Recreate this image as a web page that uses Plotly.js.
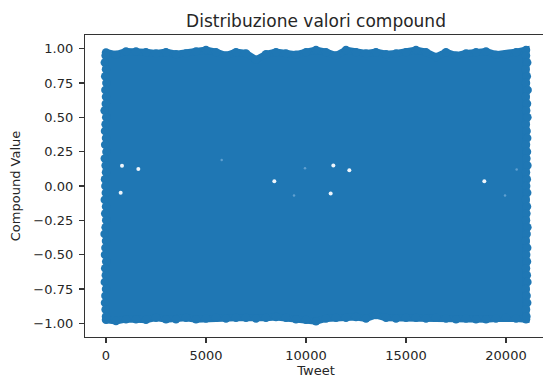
<!DOCTYPE html>
<html>
<head>
<meta charset="utf-8">
<script src="https://cdn.plot.ly/plotly-3.0.1.min.js"></script>
<style>
html,body{margin:0;padding:0;overflow:hidden;background:#fff;}
#chart{width:548px;height:378px;}
</style>
</head>
<body>
<div id="chart"></div>
<script>
// Outer envelope of the compound values (every 500 tweets)
const topTweet = [0,500,1000,1500,2000,2500,3000,3500,4000,4500,5000,5500,6000,6500,7000,7500,8000,8500,9000,9500,10000,10500,11000,11500,12000,12500,13000,13500,14000,14500,15000,15500,16000,16500,17000,17500,18000,18500,19000,19500,20000,20500,21000];
const topCompound = [0.973,0.957,0.98,0.98,0.975,0.966,0.975,0.96,0.966,0.98,0.99,0.975,0.95,0.975,0.966,0.92,0.96,0.975,0.966,0.957,0.975,0.99,0.975,0.95,0.99,0.975,0.966,0.975,0.96,0.966,0.975,0.99,0.975,0.94,0.975,0.95,0.966,0.975,0.98,0.957,0.96,0.975,0.99];
const bottomCompound = [-0.975,-0.983,-0.97,-0.97,-0.975,-0.959,-0.97,-0.97,-0.96,-0.97,-0.965,-0.96,-0.965,-0.96,-0.96,-0.965,-0.96,-0.955,-0.96,-0.97,-0.975,-0.985,-0.965,-0.96,-0.96,-0.955,-0.965,-0.94,-0.96,-0.965,-0.96,-0.96,-0.965,-0.96,-0.965,-0.97,-0.965,-0.97,-0.97,-0.965,-0.96,-0.965,-0.97];
// Points along the first and last tweets (left and right columns)
const sideCompound = [0.95,0.9,0.85,0.8,0.75,0.7,0.65,0.6,0.55,0.5,0.45,0.4,0.35,0.3,0.25,0.2,0.15,0.1,0.05,0.0,-0.05,-0.1,-0.15,-0.2,-0.25,-0.3,-0.35,-0.4,-0.45,-0.5,-0.55,-0.6,-0.65,-0.7,-0.75,-0.8,-0.85,-0.9,-0.95];
const leftTweet = [-20,-60,0,-40,20,-30,0,-10,-70,10,-20,-50,0,-40,20,-60,-20,0,-50,-30,-10,-60,0,-40,10,-20,-70,0,-30,-50,10,-40,-10,-60,0,-30,-50,-20,0];
const rightTweet = [21000,21060,20980,21040,21000,21080,20990,21050,21010,21070,20990,21030,21060,21000,21050,21020,21070,21000,21040,21010,21060,20990,21050,21020,21000,21070,21030,20990,21060,21010,21050,21000,21040,21070,20990,21030,21060,21000,21020];
// Empty spots inside the cloud (no tweets there)
const gapTweet = [800,1617,733,11367,12167,11233,8417,18917];
const gapCompound = [0.147,0.124,-0.05,0.15,0.115,-0.054,0.035,0.035];
const faintGapTweet = [5783,9400,9950,19950,20533];
const faintGapCompound = [0.19,-0.07,0.13,-0.07,0.12];

const blue = '#1f77b4';
const polyX = topTweet.concat(topTweet.slice().reverse());
const polyY = topCompound.concat(bottomCompound.slice().reverse());

const traces = [
  {x: polyX, y: polyY, type: 'scatter', mode: 'lines', fill: 'toself',
   fillcolor: blue, line: {width: 7, color: blue, shape: 'linear'}, hoverinfo: 'skip', showlegend: false},
  {x: topTweet.concat(topTweet), y: topCompound.concat(bottomCompound), type: 'scatter', mode: 'markers',
   marker: {color: blue, size: 8.5}, showlegend: false},
  {x: leftTweet.concat(rightTweet), y: sideCompound.concat(sideCompound), type: 'scatter', mode: 'markers',
   marker: {color: blue, size: 8.5}, showlegend: false},
  {x: gapTweet, y: gapCompound, type: 'scatter', mode: 'markers',
   marker: {color: '#eef5fb', size: 4}, showlegend: false},
  {x: faintGapTweet, y: faintGapCompound, type: 'scatter', mode: 'markers',
   marker: {color: '#5f9fd0', size: 2.5}, showlegend: false}
];

const txt = '#262626';
const axisCommon = {
  showgrid: false, zeroline: false, showline: true, mirror: true,
  linecolor: '#333', linewidth: 1.2, ticks: 'outside', ticklen: 5, tickwidth: 1.2, tickcolor: '#333',
  tickfont: {family: 'DejaVu Sans', size: 13, color: txt}
};

const layout = {
  width: 548, height: 378,
  margin: {l: 85, r: 1, t: 35, b: 41},
  paper_bgcolor: '#fff', plot_bgcolor: '#fff',
  font: {family: 'DejaVu Sans', color: txt},
  title: {text: 'Distribuzione valori compound', font: {family: 'DejaVu Sans', size: 17, color: txt},
          x: 316/548, xanchor: 'center', y: 0.945, yanchor: 'middle'},
  xaxis: Object.assign({}, axisCommon, {range: [-1050, 22050], tickvals: [0,5000,10000,15000,20000],
          tickformat: 'd', ticklabelstandoff: 1,
          title: {text: 'Tweet', font: {family: 'DejaVu Sans', size: 13, color: txt}, standoff: 3}}),
  yaxis: Object.assign({}, axisCommon, {range: [-1.1, 1.1], tickvals: [-1,-0.75,-0.5,-0.25,0,0.25,0.5,0.75,1],
          tickformat: '.2f', ticklabelstandoff: 3,
          title: {text: 'Compound Value', font: {family: 'DejaVu Sans', size: 13, color: txt}, standoff: 9}})
};

Plotly.newPlot('chart', traces, layout, {displayModeBar: false, staticPlot: true});
</script>
</body>
</html>
